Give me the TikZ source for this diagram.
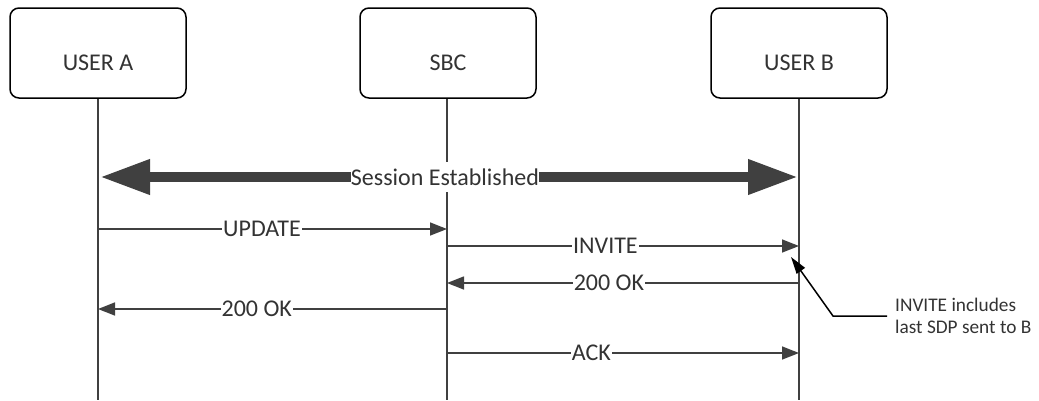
\documentclass[tikz,border=0pt]{standalone}
\usepackage{fontspec}
\setmainfont{Carlito}
\usetikzlibrary{arrows.meta}
\definecolor{ln}{HTML}{404040}
\definecolor{tx}{HTML}{333333}
\begin{document}
\begin{tikzpicture}[x=1pt,y=-1pt,
  actor/.style={draw=black, line width=1.5pt, rounded corners=9pt, fill=white,
    minimum width=176pt, minimum height=90pt, inner sep=0pt,
    text height=34pt, text depth=0pt, text=tx, font=\fontsize{24}{28}\selectfont},
  lifeline/.style={draw=ln, line width=1.5pt},
  msg/.style={draw=ln, line width=1.5pt, -{Triangle[length=17pt,width=13pt]}},
  lbl/.style={fill=white, inner sep=1pt, text=tx, font=\fontsize{24}{28}\selectfont},
  session/.style={draw=ln, line width=10pt,
    {Triangle[length=50pt,width=33pt]}-{Triangle[length=50pt,width=33pt]}},
  note/.style={align=left, text=tx, inner xsep=8pt, inner ysep=2pt,
    font=\fontsize{19.3}{22}\selectfont},
  pointer/.style={draw=black, line width=1.5pt, -{Triangle[length=17pt,width=10pt]}}
]
\useasboundingbox (0,0) rectangle (1039,400);

% actors
\node[actor] (A) at (98,53) {USER A};
\node[actor] (S) at (448,53) {SBC};
\node[actor] (B) at (799,53) {USER B};

% lifeline ends
\coordinate (Aend) at (98,400);
\coordinate (Send) at (447,400);
\coordinate (Bend) at (799,400);
\draw[lifeline] (A.south) -- (Aend);
\draw[lifeline] (S.south -| Send) -- (Send);
\draw[lifeline] (B.south) -- (Bend);

% session established
\coordinate (sesA) at (100,177);
\coordinate (sesB) at (798,177);
\draw[session] (sesA) -- (sesB);
\node[lbl, inner xsep=0pt, inner ysep=7pt] (ses) at (445,177) {Session Established};

% message points
\coordinate (a1) at (98,229);
\coordinate (s1) at (447,229);
\coordinate (s2) at (447,246);
\coordinate (b2) at (799,246);
\coordinate (b3) at (799,283);
\coordinate (s3) at (447,283);
\coordinate (s4) at (447,309);
\coordinate (a4) at (98,309);
\coordinate (s5) at (447,353);
\coordinate (b5) at (799,353);

\draw[msg] (a1) -- (s1) node[lbl, pos=0.47] (m1) {UPDATE};
\draw[msg] (s2) -- (b2) node[lbl, pos=0.45] (m2) {INVITE};
\draw[msg] (b3) -- (s3) node[lbl, pos=0.54] (m3) {200 OK};
\draw[msg] (s4) -- (a4) node[lbl, pos=0.545] (m4) {200 OK};
\draw[msg] (s5) -- (b5) node[lbl, pos=0.41] (m5) {ACK};

% annotation
\node[note, anchor=west] (nt) at (887,316) {INVITE includes\\last SDP sent to B};
\coordinate (bend) at (833,316);
\coordinate (tip) at (791,257);
\draw[pointer] (nt.west) -- (bend) -- (tip);
\end{tikzpicture}
\end{document}
